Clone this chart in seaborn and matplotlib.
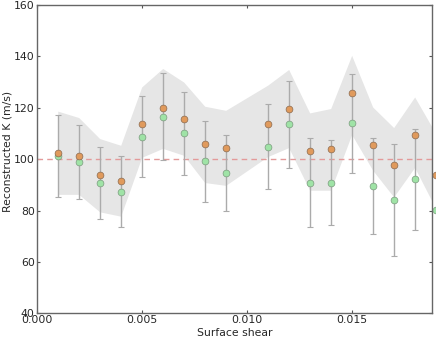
import numpy as np
import pandas as pd
import matplotlib
matplotlib.use("Agg")
import matplotlib.pyplot as plt
import seaborn as sns

# values (no point at shear 0.010)
shear = [0.001, 0.002, 0.003, 0.004, 0.005, 0.006, 0.007, 0.008, 0.009,
         0.011, 0.012, 0.013, 0.014, 0.015, 0.016, 0.017, 0.018, 0.019]
k_orange = [102.4, 101.3, 93.9, 91.4, 113.7, 119.9, 115.7, 105.8, 104.4,
            113.7, 119.7, 103.1, 103.8, 125.7, 105.4, 97.8, 109.4, 94.0]
k_green = [101.3, 98.7, 90.8, 87.4, 108.7, 116.6, 110.0, 99.2, 94.7,
           104.8, 113.5, 90.8, 90.9, 114.0, 89.6, 84.2, 92.2, 80.3]
k_green_err = [16.0, 14.4, 14.0, 14.0, 15.7, 17.1, 16.0, 15.8, 14.7,
               16.5, 16.8, 17.3, 16.7, 19.2, 18.7, 21.8, 19.7, 20.0]
band_low = [86.3, 86.3, 79.5, 77.8, 100.7, 104.2, 101.5, 90.9, 89.8,
            101.0, 104.5, 87.9, 87.9, 109.6, 95.7, 85.3, 96.8, 80.8]
band_high = [118.7, 116.2, 108.0, 105.4, 128.1, 135.3, 130.0, 120.6, 119.0,
             128.8, 134.9, 118.0, 119.7, 140.4, 120.3, 112.3, 124.2, 110.0]
true_k = 100

df = pd.DataFrame({"shear": shear, "orange": k_orange, "green": k_green})

sns.set_style("ticks")
plt.rcParams["font.family"] = ["DejaVu Sans"]
plt.rcParams["xtick.direction"] = "in"
plt.rcParams["ytick.direction"] = "in"

fig = plt.figure(figsize=(4.36, 3.40), dpi=100)
ax = fig.add_axes([0.0842, 0.0785, 0.9073, 0.9068])

# grey band around the orange estimates
ax.fill_between(shear, band_low, band_high, color="#e6e6e6", lw=0, zorder=1)

# true value
ax.axhline(true_k, color="#e39a9a", ls=(0, (4, 3)), lw=1, zorder=2)

# error bars on the green estimates
ax.errorbar(shear, k_green, yerr=k_green_err, fmt="none", ecolor="#ababab",
            elinewidth=1, capsize=2.2, capthick=0.8, zorder=3)

sns.scatterplot(data=df, x="shear", y="orange", color="#e09a5c", s=24,
                edgecolor="#8a6a50", linewidth=0.5, zorder=5, ax=ax, clip_on=False)
sns.scatterplot(data=df, x="shear", y="green", color="#9fe3a6", s=24,
                edgecolor="#7a9a7e", linewidth=0.5, zorder=4, ax=ax, clip_on=False)

ax.set_xlim(0, 0.01884)
ax.set_ylim(40, 160)
ax.set_xticks([0.000, 0.005, 0.010, 0.015])
ax.set_xticklabels(["0.000", "0.005", "0.010", "0.015"])
ax.set_yticks([40, 60, 80, 100, 120, 140, 160])
ax.set_xlabel("Surface shear", fontsize=7.8, labelpad=2)
ax.set_ylabel("Reconstructed K (m/s)", fontsize=7.8, labelpad=2)
ax.yaxis.set_label_coords(-0.062, 0.525)
ax.tick_params(labelsize=7.8, length=2.5, width=0.8, color="#555555",
               top=True, right=True, pad=1.5)
for sp in ax.spines.values():
    sp.set_color("#666666")
    sp.set_linewidth(1)

fig.savefig("out.png", dpi=100)
